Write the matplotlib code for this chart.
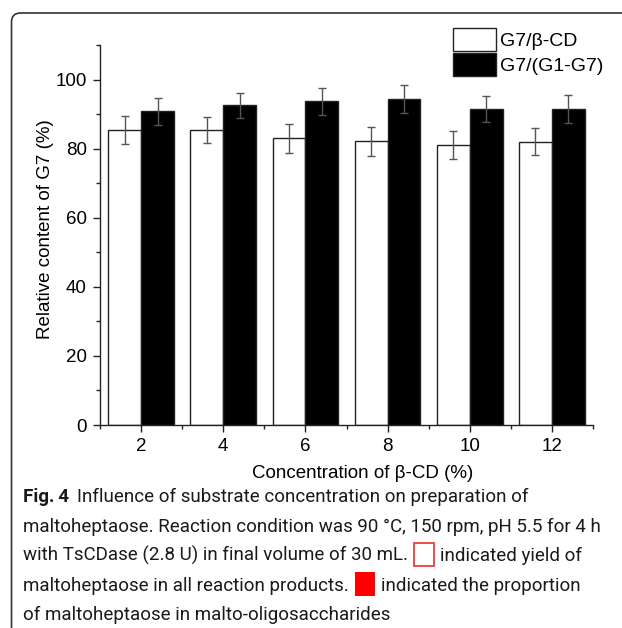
import matplotlib
matplotlib.use('Agg')
from matplotlib import pyplot as plt
import matplotlib.patches as mpatches
from matplotlib.transforms import IdentityTransform
import numpy as np

# data
conc = [2, 4, 6, 8, 10, 12]
g7_bcd = [85.4, 85.5, 83.0, 82.2, 81.1, 82.0]
g7_bcd_err = [4.0, 3.8, 4.2, 4.2, 4.1, 3.9]
g7_g1g7 = [90.8, 92.5, 93.7, 94.4, 91.4, 91.4]
g7_g1g7_err = [3.9, 3.7, 3.9, 4.0, 3.8, 4.1]
labels = ['G7/\u03b2-CD', 'G7/(G1-G7)']

caption_lines = [
    ['Influence of substrate concentration on preparation of'],
    ['maltoheptaose. Reaction condition was 90 \u00b0C, 150 rpm, pH 5.5 for 4 h'],
    ['with TsCDase (2.8 U) in final volume of 30 mL.', 'indicated yield of'],
    ['maltoheptaose in all reaction products.', 'indicated the proportion'],
    ['of maltoheptaose in malto-oligosaccharides'],
]

W, H = 622, 628
fs = 13.5
fig = plt.figure(figsize=(W / 100, H / 100), dpi=100)
ax = fig.add_axes([100 / W, 203 / H, 493 / W, 380 / H])

x = np.array(conc, dtype=float)
bw = 0.8
ax.bar(x - bw / 2, g7_bcd, bw, color='white', edgecolor='#222222', linewidth=1.0,
       label=labels[0], zorder=2)
ax.bar(x + bw / 2, g7_g1g7, bw, color='black', edgecolor='#222222', linewidth=1.0,
       label=labels[1], zorder=2)
ax.errorbar(x - bw / 2, g7_bcd, yerr=g7_bcd_err, fmt='none', ecolor='#555555',
            elinewidth=1.0, capsize=3, capthick=1.0, zorder=3)
ax.errorbar(x + bw / 2, g7_g1g7, yerr=g7_g1g7_err, fmt='none', ecolor='#555555',
            elinewidth=1.0, capsize=3, capthick=1.0, zorder=3)

ax.set_xlim(1, 13)
ax.set_ylim(0, 110)
ax.set_xticks(conc)
ax.set_xticks(np.arange(1, 14, 2), minor=True)
ax.set_yticks(np.arange(0, 101, 20))
ax.set_yticks(np.arange(10, 111, 20), minor=True)
for s in ['top', 'right']:
    ax.spines[s].set_visible(False)
for s in ['left', 'bottom']:
    ax.spines[s].set_linewidth(1.0)
    ax.spines[s].set_color('#222222')
ax.tick_params(which='major', direction='out', length=5, width=1.0, color='#222222',
               labelsize=fs, pad=4.5)
ax.tick_params(which='minor', direction='out', length=3, width=1.0, color='#222222')
for t in ax.get_xticklabels() + ax.get_yticklabels():
    t.set_fontfamily('Liberation Sans')
ax.set_xlabel('Concentration of \u03b2-CD (%)', fontsize=fs, family='Liberation Sans')
ax.xaxis.set_label_coords(0.532, -0.106)
ax.set_ylabel('Relative content of G7 (%)', fontsize=fs, family='Liberation Sans')
ax.yaxis.set_label_coords(-0.093, 0.515)

leg = ax.legend(loc='upper right', bbox_to_anchor=(1.022, 1.045), frameon=False,
                prop={'family': 'Liberation Sans', 'size': 14},
                handlelength=2.2, handleheight=1.45, handletextpad=0.25,
                labelspacing=0.12, borderaxespad=0, borderpad=0)

# frame around figure + caption (only top/left visible)
frame = mpatches.FancyBboxPatch((11.5, -60), 800, H - 13 + 60,
                                boxstyle='round,pad=0,rounding_size=9',
                                transform=IdentityTransform(), fill=False,
                                edgecolor='#333333', linewidth=1.2)
fig.add_artist(frame)

# caption
cap_font = 'Roboto'
cap_size = 13.5
line_y = [497, 527, 556, 586, 615]
fig.canvas.draw()
renderer = fig.canvas.get_renderer()


def put(xpx, ypx, s, **kw):
    t = fig.text(xpx / W, 1 - ypx / H, s, fontsize=cap_size, family=cap_font,
                 va='baseline', ha='left', color='#1a1a1a', **kw)
    bb = t.get_window_extent(renderer)
    return bb.x1


for i, parts in enumerate(caption_lines):
    ypx = line_y[i] + 5
    xp = 23
    if i == 0:
        xp = put(xp, ypx, 'Fig.\u20094', fontweight='bold') + 8
    xp = put(xp, ypx, parts[0])
    if len(parts) > 1:
        sq = 20
        xs = xp + 6
        if i == 2:
            box = mpatches.Rectangle((xs, H - ypx - 5), sq, sq + 3, fill=False,
                                     edgecolor='#e8302a', linewidth=1.2,
                                     transform=IdentityTransform())
        else:
            box = mpatches.Rectangle((xs, H - ypx - 5), sq, sq + 4, facecolor='#ff0000',
                                     edgecolor='none', transform=IdentityTransform())
        fig.add_artist(box)
        put(xs + sq + 6, ypx, parts[1])

fig.savefig('out.png', dpi=100)
